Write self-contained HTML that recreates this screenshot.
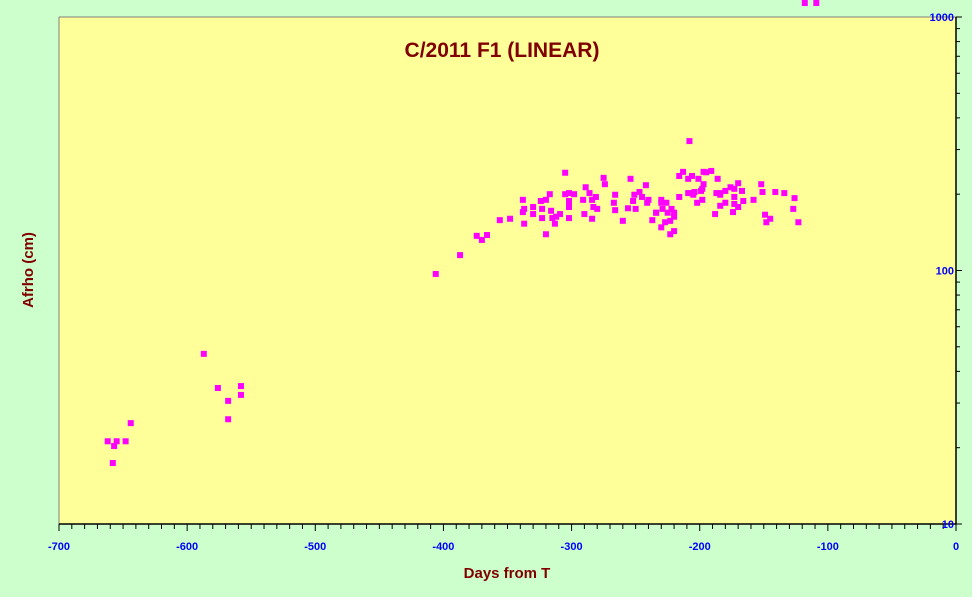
<!DOCTYPE html>
<html><head><meta charset="utf-8"><style>
html,body{margin:0;padding:0;background:#fff;}
svg{display:block;font-family:"Liberation Sans",sans-serif;}
</style></head><body>
<svg id="chart" width="977" height="600" xmlns="http://www.w3.org/2000/svg">
<rect x="0" y="0" width="972" height="597" fill="#ccffcc"/>
<rect x="59" y="17" width="897" height="507" fill="#ffff99"/>
<line x1="59" y1="17" x2="956" y2="17" stroke="#808080"/>
<line x1="59" y1="17" x2="59" y2="524" stroke="#808080"/>
<g id="axes"></g>
<g id="points"></g>
<text x="502" y="57" text-anchor="middle" font-size="21" font-weight="bold" fill="#800000">C/2011 F1 (LINEAR)</text>
<text x="507" y="578" text-anchor="middle" font-size="15" font-weight="bold" fill="#800000">Days from T</text>
<text x="33" y="270" text-anchor="middle" font-size="15" font-weight="bold" fill="#800000" transform="rotate(-90 33 270)">Afrho (cm)</text>
</svg>
<script>
const xTicks=[-700,-600,-500,-400,-300,-200,-100,0];
const yTicks=[10,100,1000];
const days=[-662,-658,-657,-655,-648,-644,-587,-576,-568,-568,-558,-558,
-406,-387,-374,-370,-366,-356,-348,-338,-337,-338,-337,-330,-330,-324,-320,-323,-323,-320,-317,-316,-313,-315,-312,-309,-305,-305,-302,-302,-298,-302,-302,-290,-291,-289,-286,-284,-281,-283,-280,-284,-275,-274,-266,-267,-266,-260,-256,-254,-251,-252,-250,-247,-245,-242,-241,-240,-230,-230,-226,-234,-229,-225,-222,-220,-220,-223,-227,-234,-237,-230,-220,-223,-216,-216,-213,-208,-209,-206,-209,-206,-205,-202,-198,-201,-197,-195,-197,-198,-199,-204,-191,-186,-180,-187,-184,-180,-184,-188,-184,-176,-173,-173,-170,-167,-166,-173,-170,-174,-158,-152,-151,-149,-145,-148,-141,-134,-127,-123,-126,-118,-109];
const afrho=[21.2,17.4,20.3,21.2,21.2,25.0,46.9,34.4,30.6,25.9,35.0,32.3,
96.9,115,137,132,138,158,160,190,175,170,153,167,178,188,190,175,161,139,200,172,153,161,163,167,243,200,202,188,200,178,161,167,190,213,202,190,195,178,175,160,232,219,199,185,173,157,176,230,199,188,175,204,195,217,185,190,190,185,185,169,175,169,175,169,163,157,155,169,158,148,143,139,195,236,245,324,230,236,202,202,199,185,190,230,245,244,219,210,206,204,247,230,206,202,199,185,180,167,202,213,195,210,221,206,188,183,178,170,190,219,204,166,160,155,204,202,175,155,193];

const X0=59,X1=956,Y0=17,Y1=524;
function sx(d){return X0+(d+700)/700*(X1-X0);}
function sy(v){return Y1-(Math.log10(v)-1)/2*(Y1-Y0);}
const NS="http://www.w3.org/2000/svg";
function mk(tag,attrs,parent){const e=document.createElementNS(NS,tag);for(const k in attrs)e.setAttribute(k,attrs[k]);parent.appendChild(e);return e;}
const ax=document.getElementById('axes');
let l=mk('line',{x1:X0,y1:Y1,x2:X1,y2:Y1,stroke:'#000','stroke-width':1.5},ax);


l=mk('line',{x1:X1,y1:Y0,x2:X1,y2:Y1,stroke:'#000','stroke-width':1.5},ax);


for(let d=-700;d<=0;d+=10){
  const major=d%100===0;
  const t=mk('line',{x1:sx(d),y1:Y1,x2:sx(d),y2:Y1+(major?7:5),stroke:'#000'},ax);
  
  
}
xTicks.forEach(d=>{
  const t=mk('text',{x:sx(d),y:Y1+26,'text-anchor':'middle','font-size':11,'font-weight':'bold',fill:'#0000ff'},ax);
  t.textContent=d;
  
  
});
for(let dec=10;dec<1000;dec*=10){for(let m=1;m<=10;m++){
  const v=dec*m;
  const t=mk('line',{x1:X1,y1:sy(v),x2:X1+(m===1||m===10?6:4),y2:sy(v),stroke:'#000'},ax);
  
  
}}
yTicks.forEach(v=>{
  const t=mk('text',{x:X1-2,y:sy(v)+4,'text-anchor':'end','font-size':11,'font-weight':'bold',fill:'#0000ff'},ax);
  t.textContent=v;
  
  
});
const pg=document.getElementById('points');
days.forEach((d,i)=>{
  const r=mk('rect',{x:sx(d)-3,y:sy(afrho[i])-3,width:6,height:6,fill:'#ff00ff'},pg);
  
  
});
</script>
</body></html>
